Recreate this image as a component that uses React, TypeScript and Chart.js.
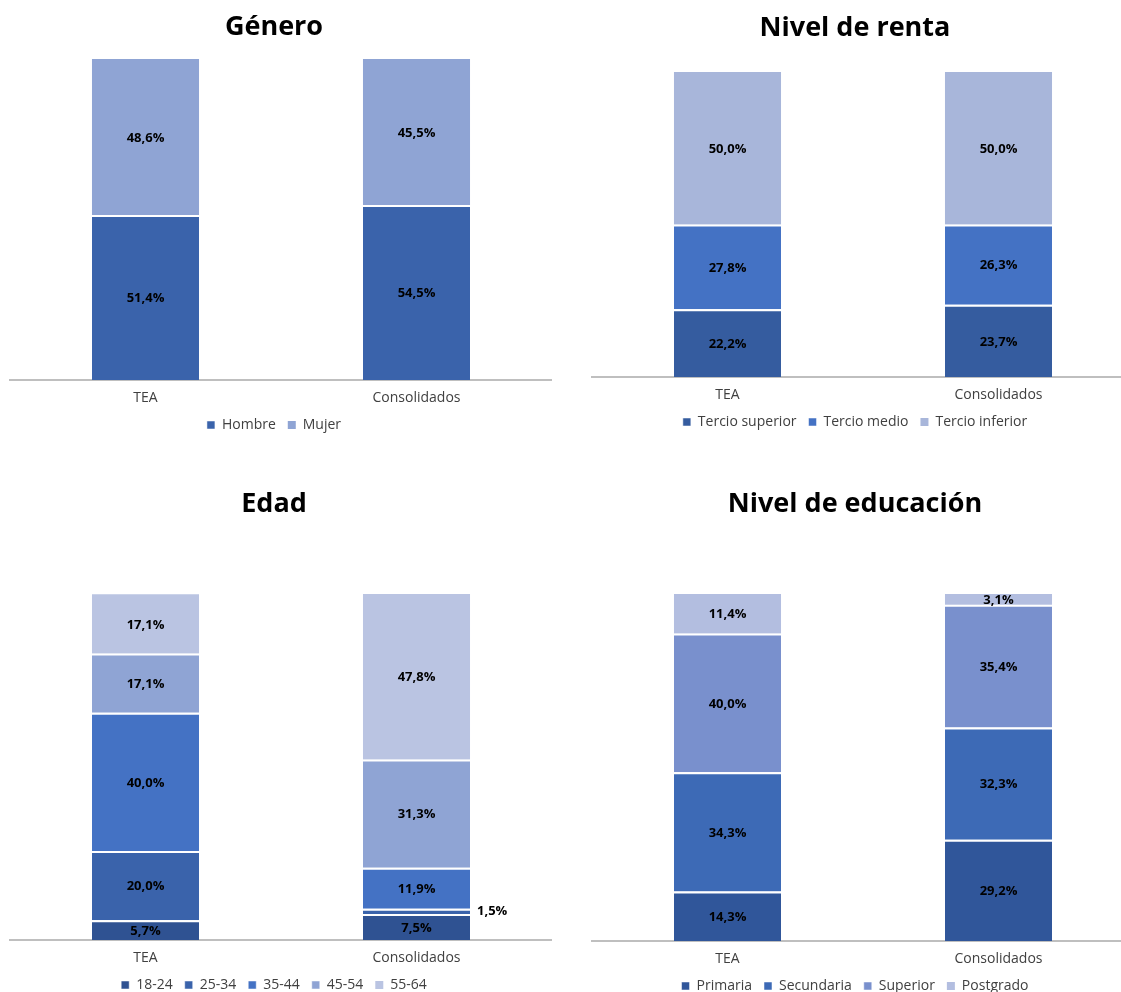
import React, { useEffect, useRef } from 'react';
import { Chart, registerables } from 'chart.js';
Chart.register(...registerables);

// ---- Data ----
const categories = ['TEA', 'Consolidados'];

// Género
const generoSeries = ['Hombre', 'Mujer'];
const hombre = [51.4, 54.5];
const mujer = [48.6, 45.5];

// Nivel de renta
const rentaSeries = ['Tercio superior', 'Tercio medio', 'Tercio inferior'];
const tercioSuperior = [22.2, 23.7];
const tercioMedio = [27.8, 26.3];
const tercioInferior = [50.0, 50.0];

// Edad
const edadSeries = ['18-24', '25-34', '35-44', '45-54', '55-64'];
const edad18_24 = [5.7, 7.5];
const edad25_34 = [20.0, 1.5];
const edad35_44 = [40.0, 11.9];
const edad45_54 = [17.1, 31.3];
const edad55_64 = [17.1, 47.8];

// Nivel de educación
const eduSeries = ['Primaria', 'Secundaria', 'Superior', 'Postgrado'];
const primaria = [14.3, 29.2];
const secundaria = [34.3, 32.3];
const superior = [40.0, 35.4];
const postgrado = [11.4, 3.1];

// ---- Styles ----
const FONT = "'Open Sans', 'Noto Sans', sans-serif";
const TEXT_GRAY = '#404040';

const fmt = (v: number) => v.toFixed(1).replace('.', ',') + '%';

const valueLabels = {
  id: 'valueLabels',
  afterDatasetsDraw(chart: any) {
    const ctx = chart.ctx;
    ctx.save();
    ctx.font = `bold 13px ${FONT}`;
    ctx.fillStyle = '#000';
    ctx.textBaseline = 'middle';
    chart.data.datasets.forEach((ds: any, di: number) => {
      const meta = chart.getDatasetMeta(di);
      if (meta.hidden) return;
      meta.data.forEach((el: any, i: number) => {
        const v = ds.data[i];
        const p = el.getProps(['x', 'y', 'base', 'width'], true);
        const cy = (p.y + p.base) / 2;
        if (v < 2) {
          ctx.textAlign = 'left';
          ctx.fillText(fmt(v), p.x + p.width / 2 + 7, cy);
        } else {
          ctx.textAlign = 'center';
          ctx.fillText(fmt(v), p.x, cy + 1);
        }
      });
    });
    ctx.restore();
  },
};

type Spec = {
  title: string;
  titleTop: number;
  titleBottom: number;
  yAxisWidth: number;
  labels: string[];
  series: number[][];
  colors: string[];
};

function makeConfig(s: Spec): any {
  const last = s.labels.length - 1;
  return {
    type: 'bar',
    data: {
      labels: categories,
      datasets: s.labels.map((l, i) => ({
        label: l,
        data: s.series[i],
        backgroundColor: s.colors[i],
        borderColor: '#FFFFFF',
        borderWidth: { top: i === last ? 0 : 2, left: 0, right: 0, bottom: 0 },
        borderSkipped: false,
        categoryPercentage: 1,
        barPercentage: 0.395,
      })),
    },
    options: {
      responsive: false,
      animation: false,
      layout: { padding: 0 },
      plugins: {
        title: {
          display: true,
          text: s.title,
          color: '#000',
          font: { family: FONT, size: 27, weight: 'bold' },
          padding: { top: s.titleTop, bottom: s.titleBottom },
        },
        legend: {
          display: true,
          position: 'bottom',
          labels: {
            boxWidth: 8,
            boxHeight: 8,
            padding: 12,
            color: TEXT_GRAY,
            font: { family: FONT, size: 14 },
          },
        },
        tooltip: { enabled: false },
      },
      scales: {
        x: {
          stacked: true,
          grid: { display: false, drawTicks: false },
          border: { display: true, color: '#BFBFBF', width: 2 },
          ticks: { padding: 10, color: TEXT_GRAY, font: { family: FONT, size: 14 } },
          afterFit(scale: any) {
            scale.height = 26;
          },
        },
        y: {
          stacked: true,
          min: 0,
          max: 100,
          grid: { display: false, drawTicks: false },
          border: { display: false },
          ticks: { display: false },
          afterFit(scale: any) {
            scale.width = s.yAxisWidth;
          },
        },
      },
    },
    plugins: [valueLabels],
  };
}

function ChartBox(props: { left: number; top: number; width: number; height: number; spec: Spec }) {
  const ref = useRef<HTMLCanvasElement | null>(null);
  useEffect(() => {
    if (!ref.current) return;
    const chart = new Chart(ref.current, makeConfig(props.spec));
    return () => chart.destroy();
  }, []);
  return (
    <div style={{ position: 'absolute', left: props.left, top: props.top, width: props.width, height: props.height }}>
      <canvas ref={ref} width={props.width} height={props.height} style={{ display: 'block' }} />
    </div>
  );
}

const generoSpec: Spec = {
  title: 'Género',
  titleTop: 11.3,
  titleBottom: 15.3,
  yAxisWidth: 14,
  labels: generoSeries,
  series: [hombre, mujer],
  colors: ['#3A63AB', '#8FA4D4'],
};

const rentaSpec: Spec = {
  title: 'Nivel de renta',
  titleTop: 12.3,
  titleBottom: 27.3,
  yAxisWidth: 16,
  labels: rentaSeries,
  series: [tercioSuperior, tercioMedio, tercioInferior],
  colors: ['#355C9F', '#4472C4', '#A8B6DA'],
};

const edadSpec: Spec = {
  title: 'Edad',
  titleTop: 18.3,
  titleBottom: 73.3,
  yAxisWidth: 14,
  labels: edadSeries,
  series: [edad18_24, edad25_34, edad35_44, edad45_54, edad55_64],
  colors: ['#2F5292', '#3A63AB', '#4472C4', '#8FA4D4', '#BAC4E2'],
};

const eduSpec: Spec = {
  title: 'Nivel de educación',
  titleTop: 18.3,
  titleBottom: 73.3,
  yAxisWidth: 16,
  labels: eduSeries,
  series: [primaria, secundaria, superior, postgrado],
  colors: ['#30569A', '#3D6AB6', '#7990CD', '#B3BEE0'],
};

export default function App() {
  return (
    <div
      style={{
        position: 'absolute',
        left: 0,
        top: 0,
        width: 1121,
        height: 992,
        overflow: 'hidden',
        background: '#FFFFFF',
      }}
    >
      <ChartBox left={-4} top={0} width={556} height={442} spec={generoSpec} />
      <ChartBox left={576} top={0} width={558} height={439} spec={rentaSpec} />
      <ChartBox left={-4} top={470} width={556} height={532} spec={edadSpec} />
      <ChartBox left={576} top={470} width={558} height={533} spec={eduSpec} />
    </div>
  );
}
